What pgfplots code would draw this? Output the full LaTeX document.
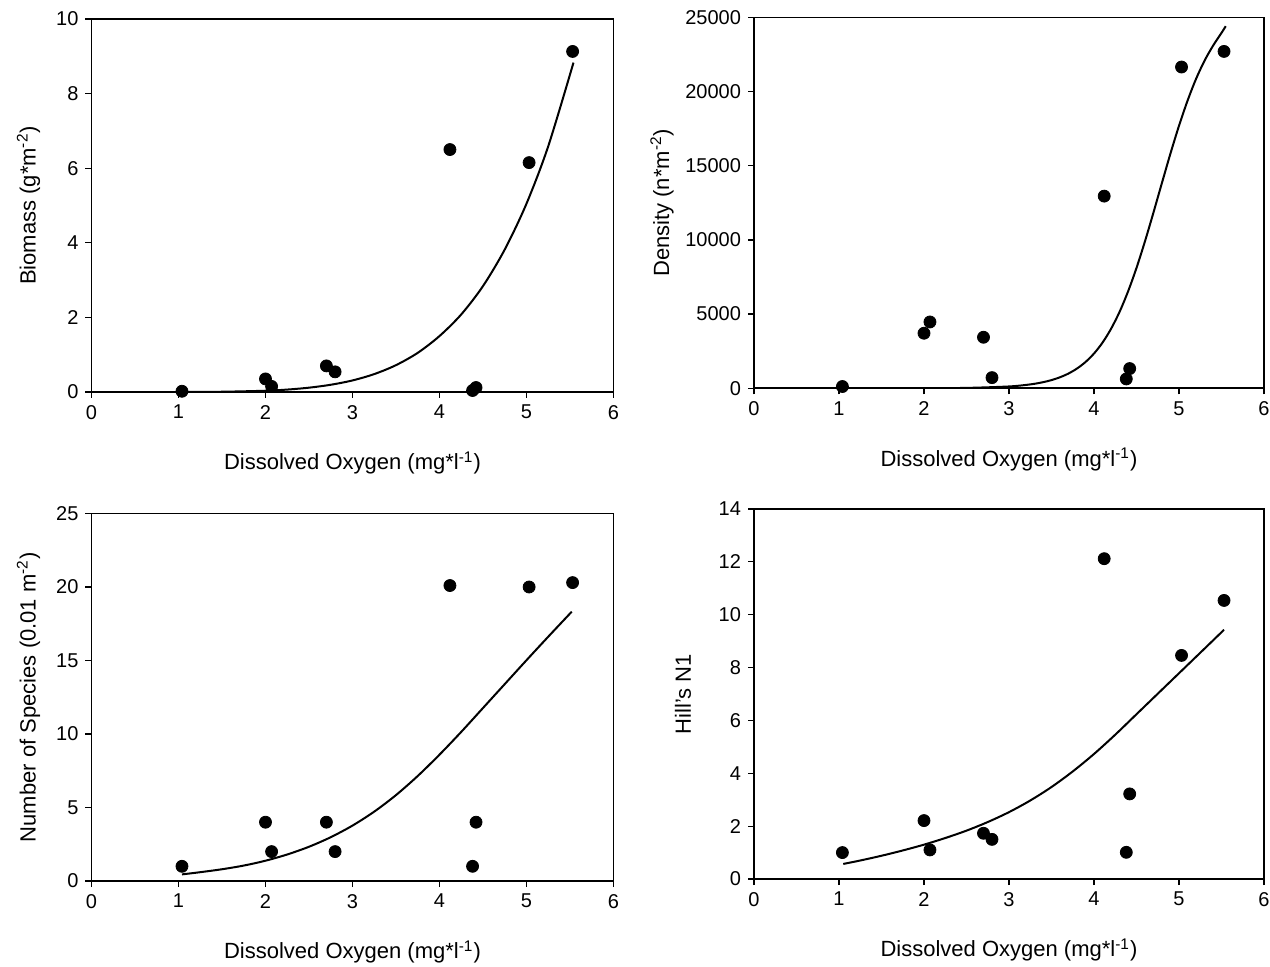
\documentclass[border=0pt]{standalone}
\usepackage{pgfplots}
\pgfplotsset{compat=1.18}
\usepackage{fontspec}
\setmainfont{Liberation Sans}
\pgfplotsset{
  panel/.style={
    scale only axis,
    xmin=0, xmax=6, xtick={0,1,...,6},
    axis line style={line width=0.8pt, black},
    tick style={line width=0.6pt, black},
    tick align=outside, xtick pos=bottom, ytick pos=left,
    major tick length=3pt,
    tick label style={font=\fontsize{10}{12}\selectfont},
    label style={font=\fontsize{11}{13}\selectfont},
    /pgf/number format/assume math mode=true,
    /pgf/number format/1000 sep={},
    scaled ticks=false,
    xlabel={Dissolved Oxygen (mg*l\textsuperscript{-1})},
    xlabel style={at={(axis description cs:0.5,0)}, anchor=center, yshift=-35.5pt},
    anchor=south west,
  },
  dots/.style={only marks, mark=*, mark size=3pt, black, mark options={fill=black, draw=black}},
  fit/.style={black, line width=1pt, smooth, no marks},
}
\begin{document}
\begin{tikzpicture}
\path[use as bounding box] (0,0) rectangle (635pt,483pt);

% Top-left: Biomass
\begin{axis}[panel, at={(45.75pt,287pt)}, width=261pt, height=186.5pt,
  ymin=0, ymax=10, ytick={0,2,...,10},
  ylabel={Biomass (g*m\textsuperscript{-2})},
  ylabel style={at={(axis description cs:-0.1207,0.5)}, anchor=center}]
\addplot[fit] coordinates {(1.04,0.001) (1.5,0.007) (2.0,0.034) (2.25,0.065) (2.5,0.116) (2.75,0.194) (3.0,0.31) (3.25,0.48) (3.5,0.72) (3.75,1.05) (4.0,1.50) (4.25,2.08) (4.5,2.84) (4.75,3.82) (5.0,5.05) (5.25,6.59) (5.54,8.83)};
\addplot[dots] coordinates {(1.04,0.02) (2.00,0.35) (2.07,0.15) (2.70,0.70) (2.80,0.54) (4.12,6.5) (4.38,0.04) (4.42,0.12) (5.03,6.15) (5.53,9.13)};
\end{axis}

% Top-right: Density
\begin{axis}[panel, at={(377pt,288.85pt)}, width=255pt, height=185.5pt,
  ymin=0, ymax=25000, ytick={0,5000,...,25000},
  ylabel={Density (n*m\textsuperscript{-2})},
  ylabel style={at={(axis description cs:-0.1804,0.5)}, anchor=center}]
\addplot[fit] coordinates {(1.04,0) (1.5,1) (2.0,6) (2.5,27) (3.0,124) (3.25,262) (3.4,411) (3.5,553) (3.6,743) (3.7,996) (3.8,1332) (3.9,1771) (4.0,2343) (4.1,3075) (4.2,4002) (4.3,5141) (4.4,6514) (4.5,8111) (4.6,9910) (4.7,11851) (4.8,13852) (4.9,15830) (5.0,17690) (5.1,19371) (5.2,20840) (5.3,22070) (5.4,23080) (5.5,23950) (5.55,24400)};
\addplot[dots] coordinates {(1.04,120) (2.00,3710) (2.07,4470) (2.70,3440) (2.80,720) (4.12,12950) (4.38,630) (4.42,1330) (5.03,21650) (5.53,22700)};
\end{axis}

% Bottom-left: Number of species
\begin{axis}[panel, at={(45.75pt,42.5pt)}, width=261pt, height=183.75pt,
  ymin=0, ymax=25, ytick={0,5,...,25},
  ylabel={Number of Species (0.01 m\textsuperscript{-2})},
  ylabel style={at={(axis description cs:-0.1207,0.5)}, anchor=center}]
\addplot[fit] coordinates {(1.04,0.45) (1.25,0.6) (1.5,0.8) (1.75,1.05) (2.0,1.38) (2.25,1.805) (2.5,2.33) (2.75,2.98) (3.0,3.77) (3.25,4.72) (3.5,5.845) (3.75,7.145) (4.0,8.595) (4.25,10.145) (4.5,11.77) (4.75,13.395) (5.0,15.02) (5.25,16.62) (5.52,18.32)};
\addplot[dots] coordinates {(1.04,1) (2.00,4) (2.07,2) (2.70,4) (2.80,2) (4.12,20.1) (4.38,1) (4.42,4) (5.03,20.0) (5.53,20.3)};
\end{axis}

% Bottom-right: Hill's N1
\begin{axis}[panel, at={(377pt,43.5pt)}, width=255pt, height=185pt,
  ymin=0, ymax=14, ytick={0,2,...,14},
  ylabel={Hill’s N1},
  ylabel style={at={(axis description cs:-0.1392,0.5)}, anchor=center}]
\addplot[fit] coordinates {(1.05,0.57) (1.25,0.70) (1.5,0.88) (1.75,1.08) (2.0,1.30) (2.25,1.55) (2.5,1.83) (2.75,2.155) (3.0,2.53) (3.25,2.97) (3.5,3.48) (3.75,4.07) (4.0,4.73) (4.25,5.46) (4.5,6.235) (4.75,7.01) (5.0,7.785) (5.25,8.56) (5.53,9.43)};
\addplot[dots] coordinates {(1.04,1.0) (2.00,2.21) (2.07,1.10) (2.70,1.73) (2.80,1.50) (4.12,12.12) (4.38,1.01) (4.42,3.22) (5.03,8.46) (5.53,10.54)};
\end{axis}
\end{tikzpicture}
\end{document}
